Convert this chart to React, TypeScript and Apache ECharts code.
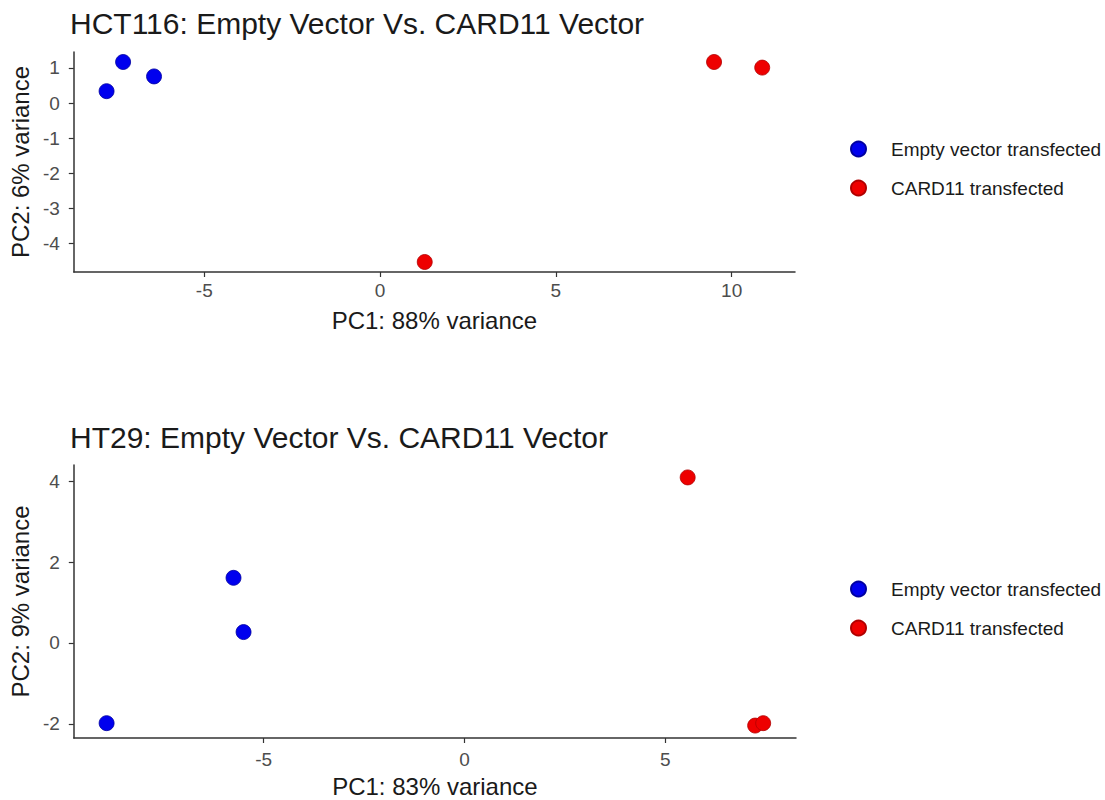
import React, { useEffect, useRef } from "react";
import * as echarts from "echarts";

// Sample groups shown in both PCA panels
const groupNames = ["Empty vector transfected", "CARD11 transfected"];

// HCT116 PCA scores: [PC1, PC2]
const hct116Empty = [
  [-7.78, 0.34],
  [-7.31, 1.17],
  [-6.43, 0.76],
];
const hct116Card11 = [
  [9.5, 1.17],
  [10.87, 1.01],
  [1.27, -4.52],
];

// HT29 PCA scores: [PC1, PC2]
const ht29Empty = [
  [-8.91, -1.98],
  [-5.75, 1.61],
  [-5.5, 0.27],
];
const ht29Card11 = [
  [5.56, 4.09],
  [7.24, -2.04],
  [7.44, -1.98],
];

// Tick values
const hct116XTicks = [-5, 0, 5, 10];
const hct116YTicks = [-4, -3, -2, -1, 0, 1];
const ht29XTicks = [-5, 0, 5];
const ht29YTicks = [-2, 0, 2, 4];

// Titles and axis names
const hct116Title = "HCT116: Empty Vector Vs. CARD11 Vector";
const ht29Title = "HT29: Empty Vector Vs. CARD11 Vector";
const hct116XName = "PC1: 88% variance";
const hct116YName = "PC2: 6% variance";
const ht29XName = "PC1: 83% variance";
const ht29YName = "PC2: 9% variance";

const BLUE = "#0000EE";
const RED = "#EE0000";
const AXIS = "#333333";
const TICK_TEXT = "#4D4D4D";
const TEXT = "#1A1A1A";
const FONT = "'Liberation Sans', Arial, Helvetica, sans-serif";

// 5% padding on each side of the data range
function paddedRange(values: number[]) {
  const lo = Math.min(...values);
  const hi = Math.max(...values);
  const pad = (hi - lo) * 0.05;
  return { min: lo - pad, max: hi + pad };
}

function axisCommon(ticks: number[], labelMargin: number) {
  return {
    type: "value" as const,
    splitLine: { show: false },
    axisLine: { show: true, onZero: false, lineStyle: { color: AXIS, width: 1.5 } },
    axisTick: {
      show: true,
      length: 5,
      customValues: ticks,
      lineStyle: { color: AXIS, width: 1.2 },
    },
    axisLabel: {
      customValues: ticks,
      fontSize: 19,
      color: TICK_TEXT,
      margin: labelMargin,
      fontFamily: FONT,
    },
    nameLocation: "middle" as const,
    nameTextStyle: { fontSize: 24, color: TEXT, fontFamily: FONT },
  };
}

function pointSeries(name: string, data: number[][], color: string, border: string, idx: number) {
  return {
    type: "scatter" as const,
    name,
    xAxisIndex: idx,
    yAxisIndex: idx,
    data,
    symbol: "circle",
    symbolSize: 15,
    itemStyle: { color, borderColor: border, borderWidth: 0.8, opacity: 1 },
  };
}

function legendAt(top: number) {
  return {
    data: groupNames,
    orient: "vertical" as const,
    left: 845,
    top,
    icon: "circle",
    itemWidth: 15,
    itemHeight: 15,
    itemGap: 19,
    selectedMode: false,
    textStyle: {
      fontSize: 19,
      lineHeight: 20,
      color: TEXT,
      fontFamily: FONT,
      padding: [0, 0, 0, 20],
    },
  };
}

export default function App() {
  const ref = useRef<HTMLDivElement>(null);

  useEffect(() => {
    if (!ref.current) return;
    const chart = echarts.init(ref.current, undefined, { renderer: "svg" });

    const hctX = paddedRange([...hct116Empty, ...hct116Card11].map((p) => p[0]));
    const hctY = paddedRange([...hct116Empty, ...hct116Card11].map((p) => p[1]));
    const htX = paddedRange([...ht29Empty, ...ht29Card11].map((p) => p[0]));
    const htY = paddedRange([...ht29Empty, ...ht29Card11].map((p) => p[1]));

    const titleStyle = { fontSize: 30, fontWeight: "normal", color: TEXT, fontFamily: FONT };

    chart.setOption({
      animation: false,
      backgroundColor: "#ffffff",
      textStyle: { fontFamily: FONT },
      title: [
        { text: hct116Title, left: 70, top: 8, padding: 0, textStyle: titleStyle },
        { text: ht29Title, left: 70, top: 422, padding: 0, textStyle: titleStyle },
      ],
      legend: [legendAt(134), legendAt(574)],
      grid: [
        { left: 70, top: 52, width: 725, height: 220 },
        { left: 70, top: 465, width: 726, height: 273 },
      ],
      xAxis: [
        {
          ...axisCommon(hct116XTicks, 9),
          gridIndex: 0,
          min: hctX.min,
          max: hctX.max,
          name: hct116XName,
          nameGap: 36,
        },
        {
          ...axisCommon(ht29XTicks, 12),
          gridIndex: 1,
          min: htX.min,
          max: htX.max,
          name: ht29XName,
          nameGap: 36,
        },
      ],
      yAxis: [
        {
          ...axisCommon(hct116YTicks, 14),
          gridIndex: 0,
          min: hctY.min,
          max: hctY.max,
          name: hct116YName,
          nameGap: 32,
        },
        {
          ...axisCommon(ht29YTicks, 14),
          gridIndex: 1,
          min: htY.min,
          max: htY.max,
          name: ht29YName,
          nameGap: 32,
        },
      ],
      series: [
        pointSeries(groupNames[0], hct116Empty, BLUE, "#0000A0", 0),
        pointSeries(groupNames[1], hct116Card11, RED, "#B00000", 0),
        pointSeries(groupNames[0], ht29Empty, BLUE, "#0000A0", 1),
        pointSeries(groupNames[1], ht29Card11, RED, "#B00000", 1),
      ],
    });

    return () => chart.dispose();
  }, []);

  return (
    <div
      ref={ref}
      style={{ position: "fixed", left: 0, top: 0, width: 1105, height: 800, background: "#fff" }}
    />
  );
}
